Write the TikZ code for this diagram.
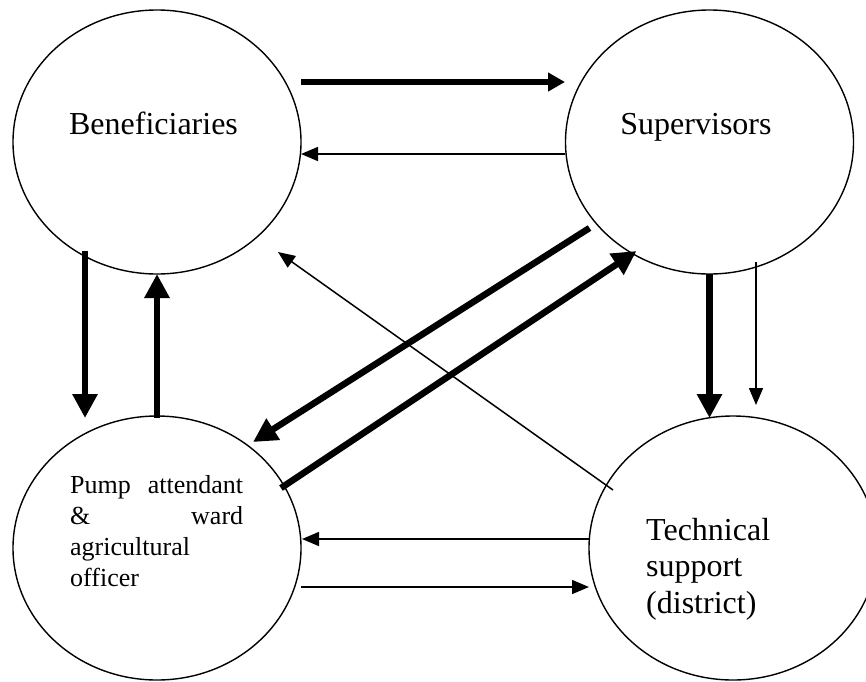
\documentclass[tikz,border=0pt]{standalone}
\usepackage{fontspec}
\setmainfont{Liberation Serif}
\usetikzlibrary{arrows.meta,calc,shapes.geometric}
\begin{document}
\begin{tikzpicture}[x=1pt,y=-1pt,
  party/.style={draw,ellipse,line width=1.4pt,minimum width=288pt,minimum height=264pt,inner sep=0pt},
  bigtext/.style={font=\fontsize{32}{36.5}\selectfont,inner sep=0pt},
  smalltext/.style={font=\fontsize{26}{31}\selectfont,inner sep=0pt},
  heavyarr/.style={line width=6.5pt,-{Triangle[length=24pt,width=24pt]}},
  heavyarrsmall/.style={line width=6.5pt,-{Triangle[length=17pt,width=18pt]}},
  lightarr/.style={line width=1.5pt,-{Triangle[length=17pt,width=14pt]}}]
\useasboundingbox (0,0) rectangle (866,681);
\node[party] (ben) at (157,142) {};
\node[party] (sup) at (709.5,142) {};
\node[party] (pump) at (157,548) {};
\node[party] (tech) at (733,548) {};
\node[bigtext,anchor=base] (bentxt) at ($(ben.center)+(-3.5,-8)$) {Beneficiaries};
\node[bigtext,anchor=base] (suptxt) at ($(sup.center)+(-13.5,-8)$) {Supervisors};
\node[smalltext,anchor=base west,align=left] (pumptxt) at ($(pump.center)+(-87,38)$)
  {\makebox[173pt][s]{Pump attendant}\\\makebox[173pt][s]{\& ward}\\agricultural\\officer};
\node[bigtext,anchor=base west,align=left] (techtxt) at ($(tech.center)+(-87,65)$)
  {Technical\\support\\(district)};
% connectors
\draw[heavyarrsmall] ($(ben.center)+(144,-60)$) -- ($(sup.center)+(-144.5,-60)$);
\draw[lightarr] ($(sup.center)+(-144.5,12)$) -- ($(ben.center)+(144,12)$);
\draw[heavyarr] ($(ben.center)+(-72,109)$) -- ($(pump.center)+(-72,-130)$);
\draw[heavyarr] ($(pump.center)+(0,-130)$) -- ($(ben.center)+(0,132)$);
\draw[heavyarr] ($(sup.center)+(-120,86)$) -- ($(pump.center)+(96,-106)$);
\draw[heavyarr] ($(pump.center)+(124,-60)$) -- ($(sup.center)+(-73,109)$);
\draw[lightarr] ($(tech.center)+(-120,-58)$) -- ($(ben.center)+(121,110)$);
\draw[heavyarr] ($(sup.center)+(0,132)$) -- ($(tech.center)+(-23.5,-130)$);
\draw[lightarr] ($(sup.center)+(46.5,120)$) -- ($(tech.center)+(23,-143)$);
\draw[lightarr] ($(tech.center)+(-144,-9)$) -- ($(pump.center)+(145,-9)$);
\draw[lightarr] ($(pump.center)+(144,39)$) -- ($(tech.center)+(-144,39)$);
\end{tikzpicture}
\end{document}
